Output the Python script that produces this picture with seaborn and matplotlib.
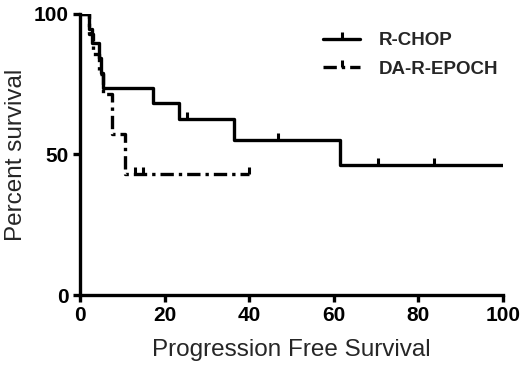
import numpy as np
import pandas as pd
import seaborn as sns
import matplotlib
matplotlib.use("Agg")
import matplotlib.pyplot as plt
from matplotlib.lines import Line2D

sns.set_theme(style="white")
plt.rcParams['font.family'] = ['Liberation Sans', 'DejaVu Sans']

# step curves (time, percent survival)
rchop_time = [0, 2.2, 2.9, 4.4, 5.0, 5.5, 17.2, 23.5, 36.3, 61.4, 100]
rchop_surv = [100, 94.7, 89.5, 84.2, 78.9, 73.7, 68.4, 62.6, 55.3, 46.3, 46.3]
rchop_cens_t = [25.3, 46.7, 70.4, 83.7]
rchop_cens_s = [62.6, 55.3, 46.3, 46.3]

epoch_time = [0, 2.0, 3.0, 4.5, 5.5, 7.6, 10.7, 40.0]
epoch_surv = [100, 92.9, 85.7, 78.6, 71.4, 57.1, 42.9, 42.9]
epoch_cens_t = [13.0, 15.0, 40.0]
epoch_cens_s = [42.9, 42.9, 42.9]

groups = ["R-CHOP", "DA-R-EPOCH"]

df = pd.concat([
    pd.DataFrame({"time": rchop_time, "surv": rchop_surv, "group": groups[0]}),
    pd.DataFrame({"time": epoch_time, "surv": epoch_surv, "group": groups[1]}),
])

dashes = {groups[0]: "", groups[1]: (4, 1.5, 1, 1.5)}

fig = plt.figure(figsize=(5.2, 3.74), dpi=100)
ax = fig.add_axes([0.154, 0.211, 0.813, 0.752])

sns.lineplot(data=df, x="time", y="surv", hue="group", style="group",
             palette={g: "black" for g in groups}, dashes=dashes,
             drawstyle="steps-post", estimator=None, sort=False,
             linewidth=2.4, legend=False, ax=ax)

ax.plot(rchop_cens_t, rchop_cens_s, linestyle="none", marker=2,
        markersize=5, mew=2.2, color="black")
ax.plot(epoch_cens_t, epoch_cens_s, linestyle="none", marker=2,
        markersize=5, mew=2.2, color="black")

ax.set_xlim(0, 100)
ax.set_ylim(0, 100)
ax.set_xticks([0, 20, 40, 60, 80, 100])
ax.set_yticks([0, 50, 100])
for s in ["top", "right"]:
    ax.spines[s].set_visible(False)
for s in ["left", "bottom"]:
    ax.spines[s].set_linewidth(2.4)
    ax.spines[s].set_color("black")
ax.tick_params(axis="both", direction="out", length=5, width=2.4,
               colors="black", labelsize=15, pad=3,
               bottom=True, left=True)
for lbl in ax.get_xticklabels() + ax.get_yticklabels():
    lbl.set_fontweight("bold")

ax.set_xlabel("Progression Free Survival", fontsize=17.5, labelpad=10)
ax.set_ylabel("Percent survival", fontsize=17.5, labelpad=5)

handles = [
    Line2D([], [], color="black", lw=2.4, marker=2, markersize=5, mew=2.2),
    Line2D([], [], color="black", lw=2.4, ls=(0, (4, 1.5, 1, 1.5)),
           marker=2, markersize=5, mew=2.2),
]
leg = ax.legend(handles, groups, loc="upper right", bbox_to_anchor=(1.03, 0.995),
                frameon=False, numpoints=1, handlelength=2.0, handletextpad=1.0,
                labelspacing=0.6, prop={"weight": "bold", "size": 13.5})

fig.savefig("out.png", dpi=100)
